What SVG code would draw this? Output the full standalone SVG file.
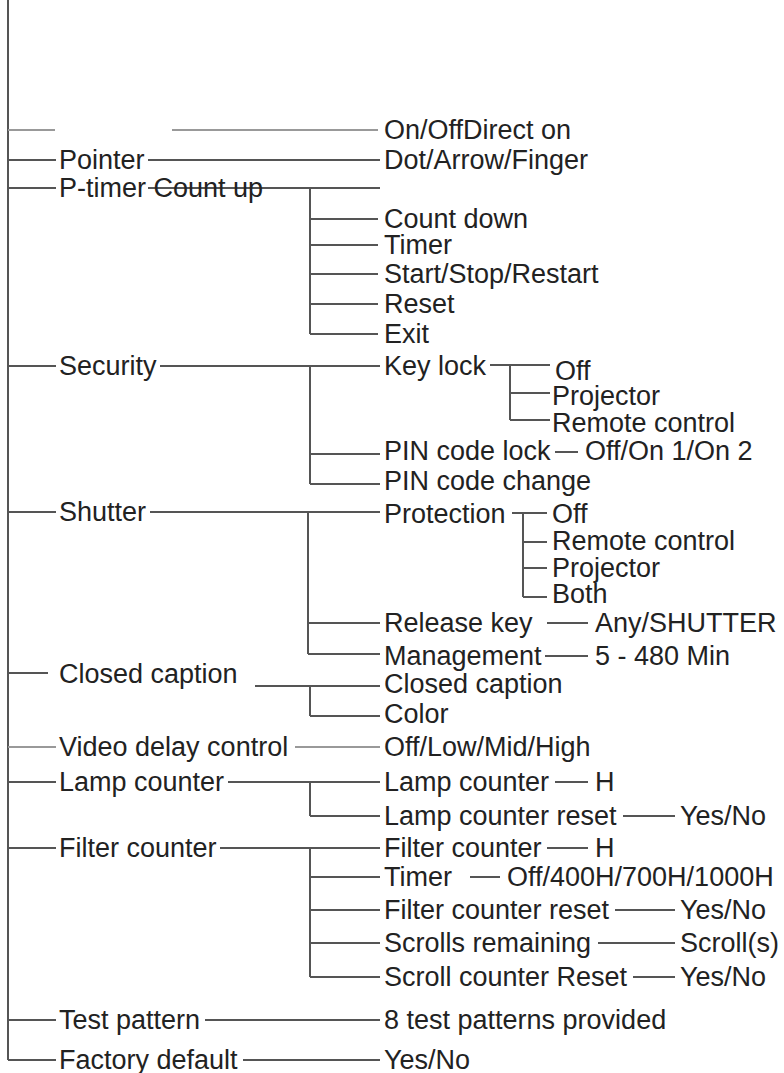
<svg xmlns="http://www.w3.org/2000/svg" width="784" height="1073" viewBox="0 0 784 1073">
<style>
text{font-family:"Liberation Sans",Arial,sans-serif;font-size:27px;fill:#222}
.c line{stroke:#555;stroke-width:2}
.c line.g{stroke:#999}
</style>
<rect width="784" height="1073" fill="#fff"/>
<g class="c" id="connectors">
<line x1="8" y1="0" x2="8" y2="1060"/>
<line class="g" x1="8" y1="130" x2="55" y2="130"/><line class="g" x1="172" y1="130" x2="378" y2="130"/>
<line x1="8" y1="160" x2="56" y2="160"/><line x1="148" y1="160" x2="380" y2="160"/>
<line x1="8" y1="188" x2="56" y2="188"/><line x1="148" y1="188" x2="380" y2="188"/>
<line x1="310" y1="188" x2="310" y2="334"/>
<line x1="310" y1="219" x2="378" y2="219"/><line x1="310" y1="245" x2="378" y2="245"/><line x1="310" y1="274" x2="378" y2="274"/><line x1="310" y1="304" x2="378" y2="304"/><line x1="310" y1="334" x2="378" y2="334"/>
<line x1="8" y1="366" x2="56" y2="366"/><line x1="160" y1="366" x2="380" y2="366"/>
<line x1="310" y1="366" x2="310" y2="484"/><line x1="310" y1="454" x2="380" y2="454"/><line x1="310" y1="484" x2="380" y2="484"/>
<line x1="490" y1="365" x2="550" y2="365"/><line x1="510" y1="365" x2="510" y2="420"/><line x1="510" y1="393" x2="550" y2="393"/><line x1="510" y1="420" x2="550" y2="420"/>
<line x1="555" y1="452" x2="578" y2="452"/>
<line x1="8" y1="512" x2="56" y2="512"/><line x1="150" y1="512" x2="380" y2="512"/>
<line x1="308" y1="512" x2="308" y2="654"/><line x1="308" y1="623" x2="380" y2="623"/><line x1="308" y1="654" x2="380" y2="654"/>
<line x1="512" y1="513" x2="547" y2="513"/><line x1="523" y1="513" x2="523" y2="597"/><line x1="523" y1="542" x2="547" y2="542"/><line x1="523" y1="568" x2="547" y2="568"/><line x1="523" y1="597" x2="547" y2="597"/>
<line x1="547" y1="623" x2="588" y2="623"/><line x1="545" y1="656" x2="588" y2="656"/>
<line x1="8" y1="673" x2="48" y2="673"/><line x1="255" y1="686" x2="380" y2="686"/>
<line x1="310" y1="686" x2="310" y2="716"/><line x1="310" y1="716" x2="380" y2="716"/>
<line class="g" x1="8" y1="747" x2="56" y2="747"/><line class="g" x1="295" y1="747" x2="380" y2="747"/>
<line x1="8" y1="782" x2="56" y2="782"/><line x1="228" y1="782" x2="380" y2="782"/>
<line x1="310" y1="782" x2="310" y2="816"/><line x1="310" y1="816" x2="380" y2="816"/>
<line x1="555" y1="782" x2="588" y2="782"/><line x1="623" y1="816" x2="675" y2="816"/>
<line x1="8" y1="848" x2="56" y2="848"/><line x1="220" y1="848" x2="380" y2="848"/>
<line x1="310" y1="848" x2="310" y2="977"/><line x1="310" y1="877" x2="380" y2="877"/><line x1="310" y1="910" x2="380" y2="910"/><line x1="310" y1="943" x2="380" y2="943"/><line x1="310" y1="977" x2="380" y2="977"/>
<line x1="547" y1="848" x2="588" y2="848"/><line x1="470" y1="877" x2="500" y2="877"/><line x1="615" y1="910" x2="675" y2="910"/><line x1="598" y1="943" x2="675" y2="943"/><line x1="633" y1="977" x2="675" y2="977"/>
<line x1="8" y1="1020" x2="56" y2="1020"/><line x1="205" y1="1020" x2="380" y2="1020"/>
<line x1="8" y1="1060" x2="56" y2="1060"/><line x1="243" y1="1060" x2="380" y2="1060"/>
</g>
<g id="n-onoff"><text x="384" y="139">On/OffDirect on</text></g>
<g id="n-pointer"><text x="59" y="169">Pointer</text><text x="384" y="169">Dot/Arrow/Finger</text></g>
<g id="n-ptimer"><text x="59" y="197">P-timer Count up</text><text x="384" y="228">Count down</text><text x="384" y="254">Timer</text><text x="384" y="283">Start/Stop/Restart</text><text x="384" y="313">Reset</text><text x="384" y="343">Exit</text></g>
<g id="n-security"><text x="59" y="375">Security</text><text x="384" y="375">Key lock</text><text x="555" y="380">Off</text><text x="552" y="405">Projector</text><text x="552" y="432">Remote control</text><text x="384" y="460">PIN code lock</text><text x="585" y="460">Off/On 1/On 2</text><text x="384" y="490">PIN code change</text></g>
<g id="n-shutter"><text x="59" y="521">Shutter</text><text x="384" y="523">Protection</text><text x="552" y="523">Off</text><text x="552" y="550">Remote control</text><text x="552" y="577">Projector</text><text x="552" y="603">Both</text><text x="384" y="632">Release key</text><text x="595" y="632">Any/SHUTTER</text><text x="384" y="665">Management</text><text x="595" y="665">5 - 480 Min</text></g>
<g id="n-cc"><text x="59" y="683">Closed caption</text><text x="384" y="693">Closed caption</text><text x="384" y="723">Color</text></g>
<g id="n-video"><text x="59" y="756">Video delay control</text><text x="384" y="756">Off/Low/Mid/High</text></g>
<g id="n-lamp"><text x="59" y="791">Lamp counter</text><text x="384" y="791">Lamp counter</text><text x="595" y="791">H</text><text x="384" y="825">Lamp counter reset</text><text x="680" y="825">Yes/No</text></g>
<g id="n-filter"><text x="59" y="857">Filter counter</text><text x="384" y="857">Filter counter</text><text x="595" y="857">H</text><text x="384" y="886">Timer</text><text x="507" y="886">Off/400H/700H/1000H</text><text x="384" y="919">Filter counter reset</text><text x="680" y="919">Yes/No</text><text x="384" y="952">Scrolls remaining</text><text x="680" y="952">Scroll(s)</text><text x="384" y="986">Scroll counter Reset</text><text x="680" y="986">Yes/No</text></g>
<g id="n-test"><text x="59" y="1029">Test pattern</text><text x="384" y="1029">8 test patterns provided</text></g>
<g id="n-factory"><text x="59" y="1069">Factory default</text><text x="384" y="1069">Yes/No</text></g>
</svg>
